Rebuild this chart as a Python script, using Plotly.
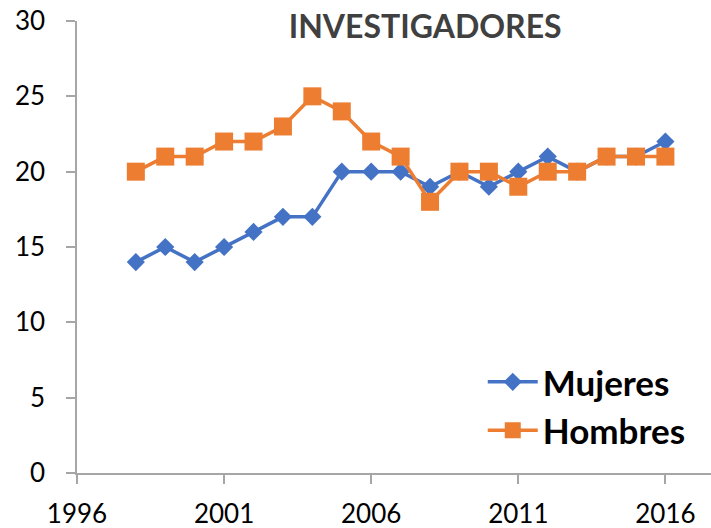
import plotly.graph_objects as go

years = list(range(1998, 2017))
mujeres = [14, 15, 14, 15, 16, 17, 17, 20, 20, 20, 19, 20, 19, 20, 21, 20, 21, 21, 22]
hombres = [20, 21, 21, 22, 22, 23, 25, 24, 22, 21, 18, 20, 20, 19, 20, 20, 21, 21, 21]
x_ticks = [1996, 2001, 2006, 2011, 2016]
y_ticks = [0, 5, 10, 15, 20, 25, 30]

FONT = "Lato"

fig = go.Figure()
fig.add_trace(go.Scatter(
    x=years, y=mujeres, name="<b>Mujeres</b>", mode="lines+markers",
    line=dict(color="#4472C4", width=3.5),
    marker=dict(symbol="diamond", size=14, color="#4472C4"),
))
fig.add_trace(go.Scatter(
    x=years, y=hombres, name="<b>Hombres</b>", mode="lines+markers",
    line=dict(color="#ED7D31", width=3.5),
    marker=dict(symbol="square", size=18, color="#ED7D31"),
))

fig.update_layout(
    width=711, height=528,
    paper_bgcolor="white", plot_bgcolor="white",
    margin=dict(l=77, r=0, t=21, b=55, autoexpand=False),
    font=dict(family=FONT, size=26, color="black"),
    title=dict(text="<b>INVESTIGADORES</b>", x=0.598, xanchor="center",
               y=0.949, yanchor="middle", xref="container", yref="container",
               font=dict(family=FONT, size=32, color="#404040")),
    legend=dict(x=0.64, y=0.148, xanchor="left", yanchor="middle",
                bgcolor="rgba(0,0,0,0)",
                font=dict(family=FONT, size=35, color="black"),
                itemwidth=50, tracegroupgap=0),
    showlegend=True,
)
fig.update_xaxes(
    range=[1996, 2017.55], tickvals=x_ticks, ticktext=[str(v) for v in x_ticks],
    showgrid=False, zeroline=False, showline=True, linecolor="#a6a6a6", linewidth=1.5,
    ticks="outside", ticklen=9, tickcolor="#a6a6a6", tickwidth=1.5,
    ticklabelstandoff=8, automargin=False,
)
fig.update_yaxes(
    range=[0, 30], tickvals=y_ticks,
    showgrid=False, zeroline=False, showline=True, linecolor="#a6a6a6", linewidth=1.5,
    ticks="outside", ticklen=9, tickcolor="#a6a6a6", tickwidth=1.5,
    ticklabelstandoff=16, automargin=False,
)

fig.write_html("out.html", config={"displayModeBar": False},
               post_script="document.body.style.margin='0';")
